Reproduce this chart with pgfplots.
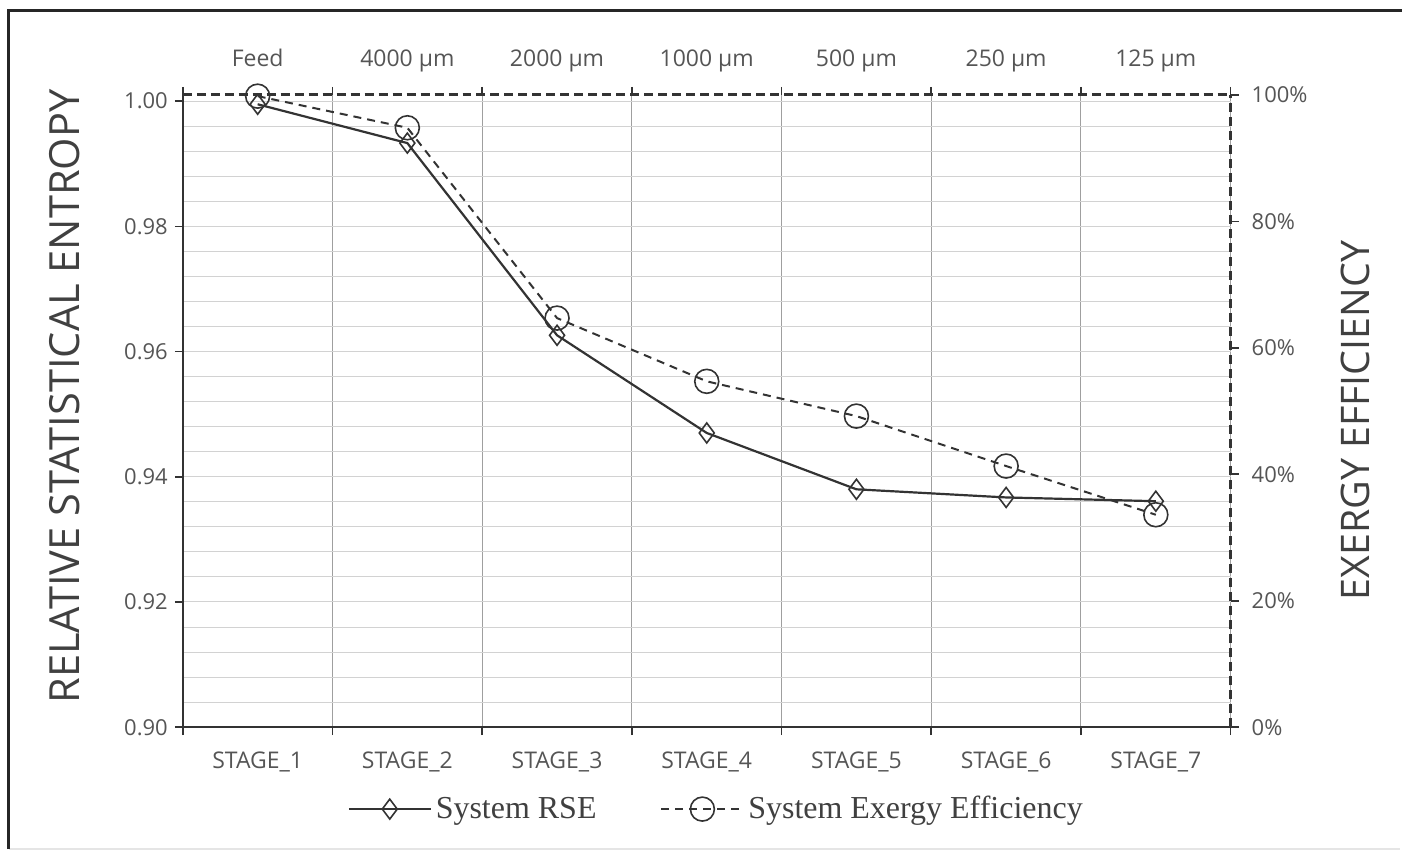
\documentclass[border=0pt]{standalone}
\usepackage{fontspec}
\setmainfont{Open Sans}
\newfontfamily\legfont{Liberation Serif}
\usepackage{pgfplots}
\pgfplotsset{compat=1.18}

\definecolor{ink}{HTML}{333333}
\definecolor{txt}{HTML}{555555}

\begin{document}
\begin{tikzpicture}
\pgfplotsset{
  base/.style={
    scale only axis, width=524.5pt, height=316.5pt,
    xmin=-0.5, xmax=6.5,
    /pgf/number format/assume math mode=true,
    tick align=outside, major tick length=4pt, minor tick length=0pt,
    tick style={ink, line width=0.8pt},
    ticklabel style={font=\fontsize{11}{13}\selectfont, text=txt},
  }
}
% left axis: relative statistical entropy
\begin{axis}[base, name=main,
  ymin=0.9, ymax=1.001,
  axis x line*=bottom, axis y line*=left,
  axis line style={ink, line width=1.2pt, -},
  xtick={-0.5,0.5,...,6.5}, xticklabels={},
  xmajorgrids, major grid style={gray!75, line width=0.5pt},
  extra x ticks={0,1,2,3,4,5,6},
  extra x tick labels={STAGE\_1,STAGE\_2,STAGE\_3,STAGE\_4,STAGE\_5,STAGE\_6,STAGE\_7},
  extra x tick style={major tick length=0pt, grid=none,
    xticklabel style={yshift=-9pt, font=\fontsize{11.5}{13}\selectfont}},
  ytick={0.90,0.92,0.94,0.96,0.98,1.00},
  yticklabel style={/pgf/number format/.cd, fixed, fixed zerofill, precision=2},
  minor ytick={0.904,0.908,0.912,0.916,0.92,0.924,0.928,0.932,0.936,0.94,
    0.944,0.948,0.952,0.956,0.96,0.964,0.968,0.972,0.976,0.98,0.984,0.988,0.992,0.996,1.0},
  yminorgrids, minor grid style={gray!35, line width=0.5pt},
  ylabel={RELATIVE STATISTICAL ENTROPY},
  ylabel style={at={(axis description cs:-0.1125,0.523)}, anchor=center,
    font=\fontsize{20.8}{24}\selectfont, text=black!75},
]
\addplot[ink, line width=1.1pt, mark=diamond, mark size=5pt,
  mark options={solid, fill=white, line width=0.8pt}]
  coordinates {(0,0.9995) (1,0.9933) (2,0.9626) (3,0.9470) (4,0.9380) (5,0.9367) (6,0.9361)};
\end{axis}
% right axis: exergy efficiency
\begin{axis}[base,
  ymin=0, ymax=100,
  axis x line*=top, axis y line*=right,
  axis line style={ink, line width=1.6pt, dash pattern=on 4.5pt off 2.5pt, -},
  xtick={-0.5,0.5,...,6.5}, xticklabels={},
  extra x ticks={0,1,2,3,4,5,6},
  extra x tick labels={Feed,4000 µm,2000 µm,1000 µm,500 µm,250 µm,125 µm},
  extra x tick style={major tick length=0pt, grid=none,
    xticklabel style={yshift=8pt, text height=8pt, text depth=2.5pt,
      font=\fontsize{11.5}{13}\selectfont}},
  ytick={0,20,40,60,80,100},
  yticklabel={\pgfmathprintnumber{\tick}\%},
  yticklabel style={xshift=3pt},
  ylabel={EXERGY EFFICIENCY},
  ylabel style={at={(axis description cs:1.119,0.485)}, anchor=center,
    font=\fontsize{19.7}{23}\selectfont, text=black!75},
  legend style={at={(axis description cs:0.51,-0.1295)}, anchor=center,
    draw=none, fill=none, legend columns=2,
    font=\legfont\fontsize{16}{19}\selectfont, text=black!75,
    /tikz/every even column/.append style={column sep=30pt}},
  legend image code/.code={\draw[mark repeat=2, mark phase=2, #1]
    plot coordinates {(0cm,0cm) (0.72cm,0cm) (1.44cm,0cm)};},
]
\addlegendimage{ink, line width=1.1pt, mark=diamond, mark size=5pt,
  mark options={solid, fill=white, line width=0.8pt}}
\addlegendentry{System RSE}
\addplot[ink, line width=1pt, dash pattern=on 4pt off 3pt, mark=o, mark size=6pt,
  mark options={solid, fill=white, line width=0.8pt}]
  coordinates {(0,99.8) (1,94.8) (2,64.7) (3,54.7) (4,49.2) (5,41.3) (6,33.6)};
\addlegendentry{System Exergy Efficiency}
\end{axis}
\pgfresetboundingbox
\path ([shift={(-91.5pt,-63pt)}]main.south west) rectangle ([shift={(610pt,364pt)}]main.south west);
\draw[gray!20, line width=0.8pt] ([shift={(-87pt,-61pt)}]main.south west) -- ([shift={(609pt,-61pt)}]main.south west);
\draw[black!85, line width=1.5pt] ([shift={(-87pt,-61pt)}]main.south west) |- ([shift={(610pt,358.5pt)}]main.south west);
\end{tikzpicture}
\end{document}
